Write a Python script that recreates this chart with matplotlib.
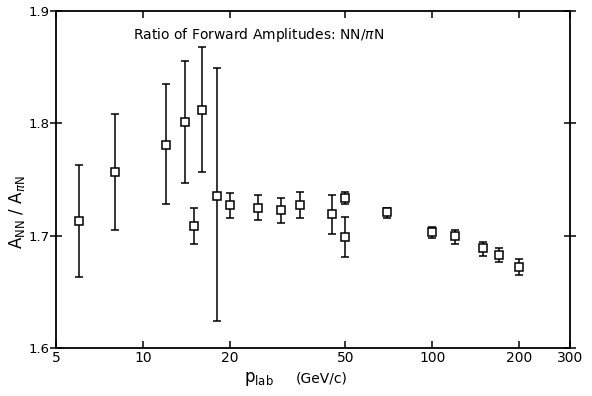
#!/usr/bin/env python3
# -*- coding: utf-8 -*-
"""Отношение амплитуд рассеяния вперёд NN / πN как функция p_lab."""

import matplotlib
matplotlib.use("Agg")
import matplotlib.pyplot as plt
from matplotlib.ticker import FixedLocator, NullLocator, FixedFormatter

# Данные
P_LAB = [6, 8, 12, 14, 15, 16, 18, 20, 25, 30, 35, 45, 50, 50,
         70, 100, 120, 150, 170, 200]
RATIO = [1.713, 1.757, 1.781, 1.801, 1.709, 1.812, 1.735, 1.727, 1.725,
         1.723, 1.727, 1.719, 1.734, 1.699, 1.721, 1.703, 1.700, 1.689,
         1.683, 1.672]
ERR_UP = [1.763, 1.808, 1.835, 1.856, 1.725, 1.868, 1.849, 1.738, 1.736,
          1.734, 1.739, 1.736, 1.739, 1.717, 1.725, 1.708, 1.705, 1.694,
          1.689, 1.679]
ERR_LO = [1.663, 1.705, 1.728, 1.747, 1.693, 1.757, 1.624, 1.716, 1.714,
          1.711, 1.716, 1.702, 1.728, 1.681, 1.716, 1.698, 1.693, 1.682,
          1.677, 1.665]

X_TICKS = [5, 10, 20, 50, 100, 200, 300]
X_TICK_LABELS = ["5", "10", "20", "50", "100", "200", "300"]
Y_TICKS = [1.6, 1.7, 1.8, 1.9]
Y_TICK_LABELS = ["1.6", "1.7", "1.8", "1.9"]


def main():
    fig = plt.figure(figsize=(5.92, 3.96), dpi=100)
    ax = fig.add_axes([0.095, 0.121, 0.868, 0.851])

    lower = [r - lo for r, lo in zip(RATIO, ERR_LO)]
    upper = [up - r for r, up in zip(RATIO, ERR_UP)]
    ax.errorbar(P_LAB, RATIO, yerr=[lower, upper], fmt="s", ms=5.2,
                mfc="white", mec="black", mew=1.1, ecolor="black",
                elinewidth=1.1, capsize=3, capthick=1.1, zorder=3)

    ax.set_xscale("log")
    ax.set_xlim(5, 300)
    ax.set_ylim(1.6, 1.9)
    ax.xaxis.set_major_locator(FixedLocator(X_TICKS))
    ax.xaxis.set_major_formatter(FixedFormatter(X_TICK_LABELS))
    ax.xaxis.set_minor_locator(NullLocator())
    ax.yaxis.set_major_locator(FixedLocator(Y_TICKS))
    ax.yaxis.set_major_formatter(FixedFormatter(Y_TICK_LABELS))

    ax.tick_params(axis="both", which="major", direction="in", length=5,
                   width=1.1, labelsize=10, top=True, right=True, pad=2)
    ax.tick_params(axis="y", direction="inout", length=8, pad=1,
                   labelsize=9.5)
    for sp in ax.spines.values():
        sp.set_linewidth(1.3)

    ax.text(0.150, 0.93, r"Ratio of Forward Amplitudes: NN/$\pi$N",
            transform=ax.transAxes, fontsize=10, ha="left", va="center")

    fig.text(0.028, 0.465, r"A$_{\rm NN}$ / A$_{\pi\rm N}$", fontsize=12,
             rotation=90, ha="center", va="center")
    fig.text(0.412, 0.035, r"p$_{\rm lab}$", fontsize=12, ha="left",
             va="baseline")
    fig.text(0.5, 0.045, "(GeV/c)", fontsize=10, ha="left", va="center")

    fig.savefig("out.png", dpi=100)


if __name__ == "__main__":
    main()
